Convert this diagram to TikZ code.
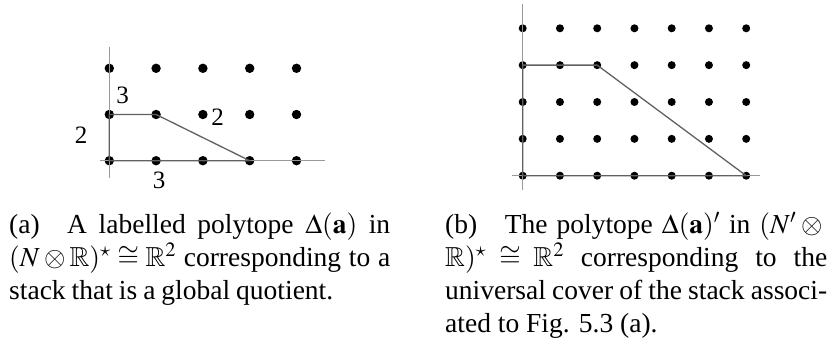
\documentclass[tikz,border=0pt]{standalone}
\usepackage{mathptmx}
\usepackage{amssymb}
\usepackage[no-math]{fontspec}
\setmainfont{Liberation Serif}
\begin{document}
\begin{tikzpicture}[x=1pt,y=-1pt,
  dotL/.style={circle,fill=black,inner sep=0pt,minimum size=9.4pt},
  dotR/.style={circle,fill=black,inner sep=0pt,minimum size=8pt},
  axisline/.style={draw=black!40,line width=1.2pt},
  polyedge/.style={draw=black!62,line width=1.3pt},
  lab/.style={font=\fontsize{25}{30}\selectfont,inner sep=0pt},
  captext/.style={anchor=base west,inner sep=0pt,text depth=1pt,font=\fontsize{27.5}{33}\selectfont}]
\useasboundingbox (0,0) rectangle (832,345);
% ---------- left figure ----------
\foreach \i in {0,...,4}
  \foreach \j in {0,1,2}
    \node[dotL] (L-\i-\j) at ({109.3+46.8*\i},{160.7-46.2*\j}) {};
\coordinate (LyB) at (109.3,178);
\coordinate (LyT) at (109.3,46.7);
\coordinate (LxL) at (100,160.7);
\coordinate (LxR) at (325,160.7);
\draw[axisline] (LyB) -- (LyT);
\draw[axisline] (LxL) -- (LxR);
\draw[polyedge] (L-0-0.center) -- (L-0-1.center) -- (L-1-1.center) -- (L-3-0.center) -- cycle;
\node[lab] (l3a) at (122.5,95) {3};
\node[lab] (l2a) at (81,135) {2};
\node[lab] (l2b) at (217.5,117) {2};
\node[lab] (l3b) at (159,180) {3};
% ---------- right figure ----------
\foreach \i in {0,...,6}
  \foreach \j in {0,...,4}
    \node[dotR] (R-\i-\j) at ({522.7+37.25*\i},{175.7-36.85*\j}) {};
\coordinate (RyB) at (522.7,190);
\coordinate (RyT) at (522.7,4);
\coordinate (RxL) at (511.7,175.7);
\coordinate (RxR) at (760,175.7);
\draw[axisline] (RyB) -- (RyT);
\draw[axisline] (RxL) -- (RxR);
\draw[polyedge] (R-0-0.center) -- (R-0-3.center) -- (R-2-3.center) -- (R-6-0.center) -- cycle;
% ---------- captions ----------
\node[captext] (ca1) at (9,233) {\hbox to 381pt{(a)\quad A labelled polytope $\Delta(\mathbf{a})$ in}};
\node[captext] (ca2) at (9,266) {\hbox to 381pt{$(N\otimes\mathbb{R})^\star\cong\mathbb{R}^2$ corresponding to a}};
\node[captext] (ca3) at (9,299) {\hbox to 324pt{stack that is a global quotient.}};
\node[captext] (cb1) at (445,233) {\hbox to 382pt{(b)\quad The polytope $\Delta(\mathbf{a})'$ in $(N'\otimes{}$}};
\node[captext] (cb2) at (445,266) {\hbox to 382pt{$\mathbb{R})^\star \cong \mathbb{R}^2$ corresponding to the}};
\node[captext] (cb3) at (445,299) {\hbox to 382pt{universal cover of the stack associ-}};
\node[captext] (cb4) at (445,332) {ated to Fig. 5.3 (a).};
\end{tikzpicture}
\end{document}
